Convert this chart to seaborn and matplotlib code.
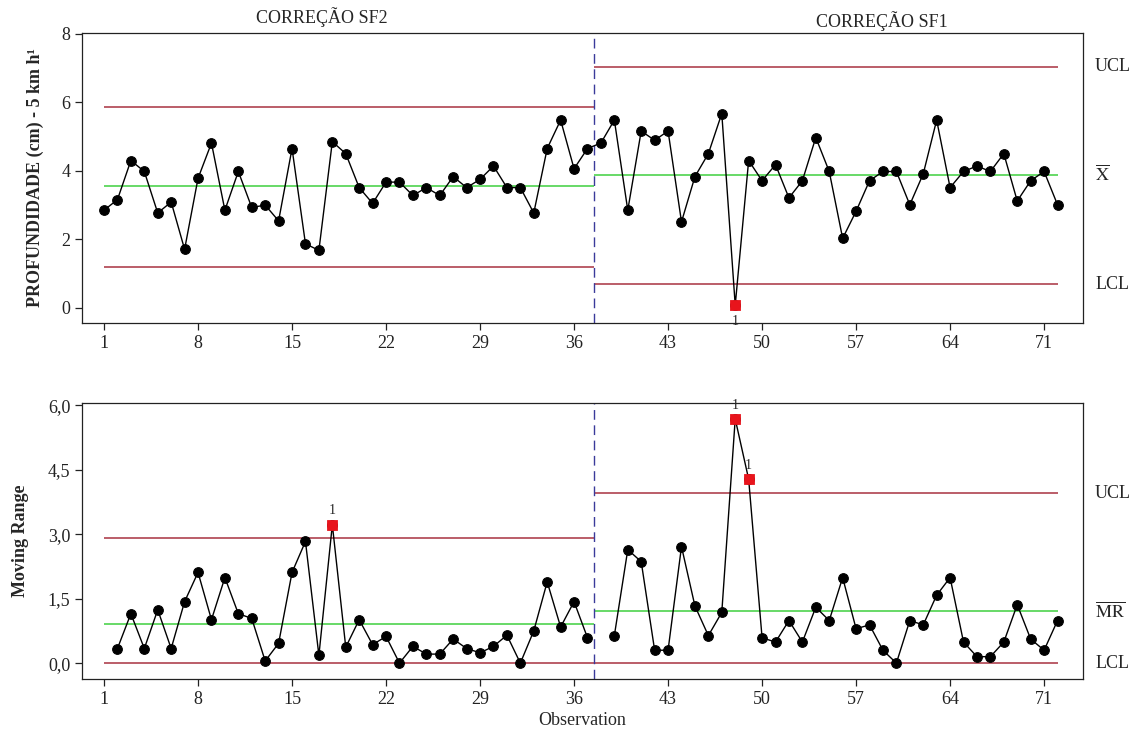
import numpy as np
import pandas as pd
import matplotlib
matplotlib.use("Agg")
import matplotlib.pyplot as plt
import matplotlib.transforms as mtransforms
import seaborn as sns

# ---------------- data ----------------
stage_names = ["CORREÇÃO SF2", "CORREÇÃO SF1"]
x_ticks = [1, 8, 15, 22, 29, 36, 43, 50, 57, 64, 71]

depth_sf2 = [2.85, 3.16, 4.30, 3.98, 2.77, 3.09, 1.71, 3.78, 4.81, 2.85,
             3.98, 2.93, 3.00, 2.54, 4.65, 1.87, 1.68, 4.85, 4.50, 3.51,
             3.05, 3.67, 3.67, 3.28, 3.51, 3.28, 3.83, 3.51, 3.75, 4.14,
             3.51, 3.51, 2.77, 4.65, 5.48, 4.06, 4.65]
depth_sf1 = [4.81, 5.48, 2.85, 5.16, 4.89, 5.16, 2.51, 3.83, 4.50, 5.67,
             0.08, 4.30, 3.71, 4.18, 3.21, 3.71, 4.97, 3.98, 2.03, 2.82,
             3.71, 3.98, 3.98, 3.01, 3.91, 5.48, 3.51, 3.98, 4.14, 3.98,
             4.50, 3.12, 3.71, 3.98, 3.01]

mr_sf2 = [0.34, 1.15, 0.34, 1.24, 0.34, 1.43, 2.11, 1.01, 1.99, 1.15,
          1.04, 0.05, 0.46, 2.11, 2.83, 0.18, 3.22, 0.37, 1.01, 0.43,
          0.62, 0.00, 0.39, 0.21, 0.21, 0.56, 0.34, 0.24, 0.39, 0.65,
          0.00, 0.75, 1.89, 0.84, 1.43, 0.59]
mr_sf1 = [0.64, 2.64, 2.36, 0.30, 0.30, 2.71, 1.33, 0.64, 1.18, 5.68,
          4.28, 0.59, 0.49, 0.99, 0.49, 1.30, 0.99, 1.99, 0.80, 0.89,
          0.30, 0.00, 0.99, 0.89, 1.58, 1.99, 0.49, 0.15, 0.15, 0.49,
          1.36, 0.56, 0.30, 0.99]

# control limits per stage: [SF2, SF1]
x_ucl = [5.86, 7.04]
x_cl = [3.57, 3.88]
x_lcl = [1.20, 0.69]
mr_ucl = [2.92, 3.95]
mr_cl = [0.905, 1.21]
mr_lcl = [0.0, 0.0]

x_flags = [48]           # observations flagged (test 1) on the individuals chart
mr_flags = [18, 48, 49]  # observations flagged on the moving range chart

# ---------------- frames ----------------
n1, n2 = len(depth_sf2), len(depth_sf1)
obs = np.arange(1, n1 + n2 + 1)
df_x = pd.DataFrame({"obs": obs, "val": depth_sf2 + depth_sf1})
df_mr2 = pd.DataFrame({"obs": np.arange(2, n1 + 1), "val": mr_sf2})
df_mr1 = pd.DataFrame({"obs": np.arange(n1 + 2, n1 + n2 + 1), "val": mr_sf1})
df_mr = pd.concat([df_mr2, df_mr1])
split = n1 + 0.5
seg = [(1, split), (split, n1 + n2)]

# ---------------- style ----------------
sns.set_style("ticks")
plt.rcParams["font.family"] = ["Liberation Serif", "DejaVu Serif"]
plt.rcParams["mathtext.fontset"] = "stix"

RED = "#a83240"
GREEN = "#3fcf3f"
BLUE = "#3a3a9a"
FS = 13

fig = plt.figure(figsize=(11.31, 7.36), dpi=100)
ax1 = fig.add_axes([0.0725, 0.5611, 0.8851, 0.3941])
ax2 = fig.add_axes([0.0725, 0.0774, 0.8851, 0.3750])


def draw_limits(ax, ucl, cl, lcl):
    for i, (a, b) in enumerate(seg):
        ax.hlines(ucl[i], a, b, color=RED, lw=1.1, zorder=1)
        ax.hlines(lcl[i], a, b, color=RED, lw=1.1, zorder=1)
        ax.hlines(cl[i], a, b, color=GREEN, lw=1.1, zorder=1)
    ax.axvline(split, color=BLUE, lw=1.0, ls=(0, (7, 4)), zorder=1)


def style_axes(ax):
    for s in ax.spines.values():
        s.set_visible(True)
        s.set_color("#222222")
        s.set_linewidth(0.9)
    ax.tick_params(direction="out", length=5, width=0.9, labelsize=FS,
                   colors="#222222")
    ax.set_xticks(x_ticks)
    ax.set_xlim(-0.64, 73.9)


def right_labels(ax, items):
    tr = mtransforms.blended_transform_factory(ax.transAxes, ax.transData)
    for y, s in items:
        ax.text(1.012, y, s, transform=tr, ha="left", va="center",
                fontsize=FS)


# ---- individuals chart ----
draw_limits(ax1, x_ucl, x_cl, x_lcl)
sns.lineplot(data=df_x, x="obs", y="val", ax=ax1, color="black", lw=1.0,
             marker="o", markersize=7, markeredgecolor="black", zorder=3)
fx = df_x[df_x["obs"].isin(x_flags)]
sns.scatterplot(data=fx, x="obs", y="val", ax=ax1, marker="s", s=55,
                color="#e8141c", edgecolor="#e8141c", zorder=4)
for _, r in fx.iterrows():
    ax1.annotate("1", (r["obs"], r["val"]), xytext=(0, -12),
                 textcoords="offset points", ha="center", va="center",
                 fontsize=10, annotation_clip=False)
style_axes(ax1)
ax1.set_ylim(-0.44, 8.02)
ax1.set_yticks([0, 2, 4, 6, 8])
ax1.set_ylabel("PROFUNDIDADE (cm) - 5 km h¹", fontsize=13, fontweight="bold")
ax1.yaxis.set_label_coords(-0.038, 0.5)
ax1.set_xlabel("")
right_labels(ax1, [(x_ucl[1], "UCL"), (x_cl[1], r"$\overline{\mathrm{X}}$"),
                   (x_lcl[1], "LCL")])
fig.text(322 / 1131, 1 - 17 / 736, stage_names[0], ha="center", va="center",
         fontsize=FS)
fig.text(882 / 1131, 1 - 21 / 736, stage_names[1], ha="center", va="center",
         fontsize=FS)

# ---- moving range chart ----
draw_limits(ax2, mr_ucl, mr_cl, mr_lcl)
for d in (df_mr2, df_mr1):
    sns.lineplot(data=d, x="obs", y="val", ax=ax2, color="black", lw=1.0,
                 marker="o", markersize=7, markeredgecolor="black", zorder=3)
fm = df_mr[df_mr["obs"].isin(mr_flags)]
sns.scatterplot(data=fm, x="obs", y="val", ax=ax2, marker="s", s=55,
                color="#e8141c", edgecolor="#e8141c", zorder=4)
for _, r in fm.iterrows():
    ax2.annotate("1", (r["obs"], r["val"]), xytext=(0, 10),
                 textcoords="offset points", ha="center", va="center",
                 fontsize=10, annotation_clip=False)
style_axes(ax2)
ax2.set_ylim(-0.37, 6.05)
ax2.set_yticks([0, 1.5, 3.0, 4.5, 6.0])
ax2.set_yticklabels(["0,0", "1,5", "3,0", "4,5", "6,0"])
ax2.set_ylabel("Moving Range", fontsize=13, fontweight="bold")
ax2.yaxis.set_label_coords(-0.053, 0.5)
ax2.set_xlabel("Observation", fontsize=FS, labelpad=3)
right_labels(ax2, [(mr_ucl[1], "UCL"), (mr_cl[1], r"$\overline{\mathrm{MR}}$"),
                   (mr_lcl[1], "LCL")])

fig.savefig("out.png", dpi=100, facecolor="white")
